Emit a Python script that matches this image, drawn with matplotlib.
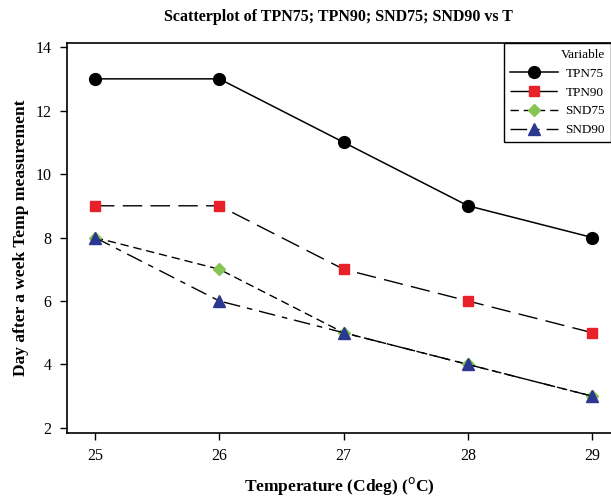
import matplotlib.pyplot as plt

temps = [25, 26, 27, 28, 29]
tpn75 = [13, 13, 11, 9, 8]
tpn90 = [9, 9, 7, 6, 5]
snd75 = [8, 7, 5, 4, 3]
snd90 = [8, 6, 5, 4, 3]
series_names = ["TPN75", "TPN90", "SND75", "SND90"]

plt.rcParams['font.family'] = ['Liberation Serif', 'DejaVu Serif']

fig = plt.figure(figsize=(6.11, 4.96), dpi=100)
ax = fig.add_axes([67 / 611, 1 - 433 / 496, 1 - 67 / 611, (433 - 43) / 496])

ax.plot(temps, tpn75, color='black', lw=1.1, marker='o', markersize=8.5,
        markerfacecolor='black', markeredgecolor='black', label=series_names[0])
ax.plot(temps, tpn90, color='black', lw=1.0, dashes=(14, 6), marker='s', markersize=7,
        markerfacecolor='#E8202A', markeredgecolor='#E8202A', label=series_names[1])
ax.plot(temps, snd75, color='black', lw=1.0, dashes=(6, 3.5), marker='D', markersize=6.5,
        markerfacecolor='#86C454', markeredgecolor='#86C454', label=series_names[2])
ax.plot(temps, snd90, color='black', lw=1.0, dashes=(12, 5, 4, 5), marker='^', markersize=8,
        markerfacecolor='#2B3890', markeredgecolor='#2B3890', label=series_names[3])

ax.set_xlim(24.775, 29.15)
ax.set_ylim(1.84, 14.13)
ax.set_xticks(temps)
ax.set_yticks([2, 4, 6, 8, 10, 12, 14])
ax.tick_params(direction='out', length=5, width=1, labelsize=11.5, pad=6)
ax.spines['right'].set_visible(False)
for s in ['left', 'top', 'bottom']:
    ax.spines[s].set_linewidth(1.2)

fig.text(338 / 611, 1 - 17 / 496, "Scatterplot of TPN75; TPN90; SND75; SND90 vs T",
         ha='center', va='center', fontsize=11.5, fontweight='bold')
ax.set_xlabel(r"Temperature (Cdeg) ($^{\mathrm{o}}$C)", fontsize=12.5, fontweight='bold', labelpad=8)
ax.set_ylabel("Day after a week Temp measurement", fontsize=12.5, fontweight='bold', labelpad=5)

leg = ax.legend(title="Variable", loc='upper right', bbox_to_anchor=(1.0, 1.0),
                borderaxespad=0, fontsize=9.5, title_fontsize=9.5, fancybox=False,
                framealpha=1, edgecolor='black', handlelength=3.6, labelspacing=0.5,
                handletextpad=0.6, borderpad=0.45)
leg.get_frame().set_linewidth(1.0)
leg._legend_box.align = "right"

fig.savefig("out.png", dpi=100)
